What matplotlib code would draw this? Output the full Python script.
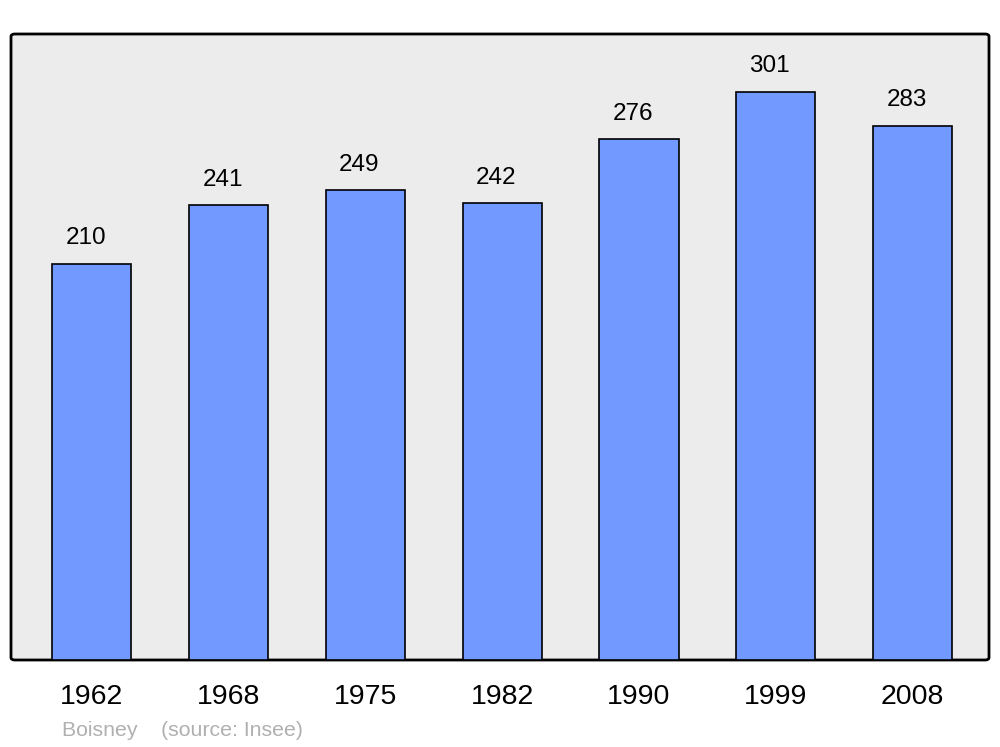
import matplotlib
matplotlib.use("Agg")
import matplotlib.pyplot as plt
from matplotlib.patches import FancyBboxPatch

years = ["1962", "1968", "1975", "1982", "1990", "1999", "2008"]
population = [210, 241, 249, 242, 276, 301, 283]

plt.rcParams['font.family'] = ['Liberation Sans', 'DejaVu Sans']

fig = plt.figure(figsize=(10, 7.47), dpi=100)
ax = fig.add_axes([0.011, 1 - 660/747, 0.978, (660 - 34)/747])
ax.set_facecolor('none')
ax.set_xlim(-0.592, 6.559)
ax.set_ylim(0, 331.7)

# rounded background frame
frame = FancyBboxPatch((0, 0), 1, 1, boxstyle="round,pad=0,rounding_size=0.004",
                       transform=ax.transAxes, facecolor='#ececec', edgecolor='black',
                       linewidth=2, zorder=0, clip_on=False)
ax.add_patch(frame)

x = list(range(len(years)))
bars = ax.bar(x, population, width=0.578, color='#7299ff', edgecolor='black',
              linewidth=1.2, zorder=2)
for xi, v in zip(x, population):
    ax.text(xi - 0.044, v + 13.5, str(v), ha='center', va='center', fontsize=17.5, zorder=3)

for s in ax.spines.values():
    s.set_visible(False)
ax.set_yticks([])
ax.set_xticks(x)
ax.set_xticklabels(years, fontsize=20.5)
ax.tick_params(axis='x', length=0, pad=17.5)

fig.text(0.062, 1 - 730/747, "Boisney    (source: Insee)", color='#b0b0b0',
         fontsize=15.3, va='center', ha='left')

fig.savefig("out.png", dpi=100)
